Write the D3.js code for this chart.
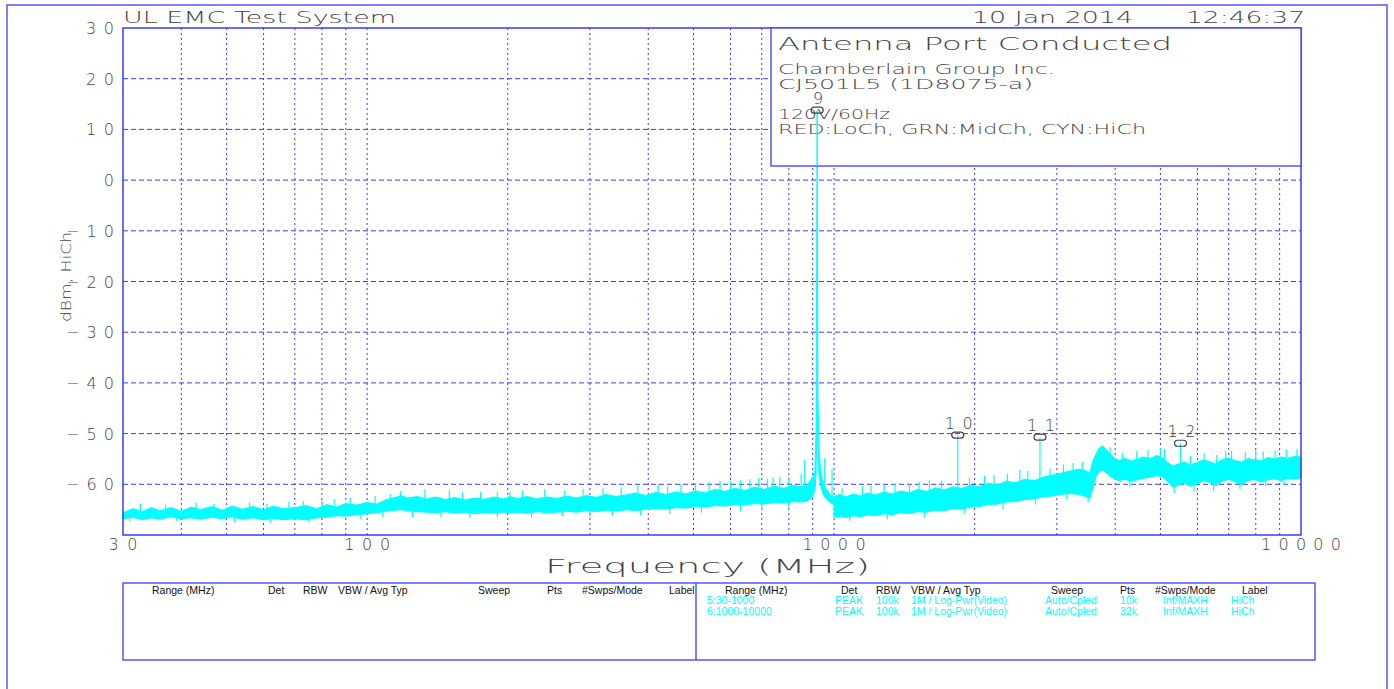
<!DOCTYPE html>
<html>
<head>
<meta charset="utf-8">
<script src="https://cdn.jsdelivr.net/npm/d3@7"></script>
<style>
  html, body { margin: 0; padding: 0; background: #fff; overflow: hidden; }
  svg { display: block; }
</style>
</head>
<body>
<div id="chart"></div>
<script>
// ---- data ----
// sweep 5: 30-1000 MHz, [MHz, band low dBm, band high dBm]
const seg1 = [
  [30, -66.8, -65.6], [31.5, -66.5, -64.8], [33, -67.0, -65.4], [34.5, -66.6, -64.6],
  [36, -66.9, -65.2], [38, -66.4, -64.6], [40, -66.8, -65.3], [42, -66.6, -64.5],
  [44, -66.9, -65.0], [46.5, -66.5, -64.4], [49, -66.8, -65.1], [51.5, -66.4, -64.3],
  [54, -66.9, -64.9], [57, -66.6, -64.4], [60, -67.0, -65.0], [63, -66.7, -64.3],
  [66, -67.0, -64.8], [70, -66.8, -64.6], [74, -67.0, -64.2], [78, -66.6, -64.8],
  [82, -66.5, -64.0], [86, -66.2, -64.5], [90, -66.3, -63.8], [95, -66.0, -64.1],
  [100, -65.8, -63.6], [105, -65.6, -63.9], [110, -65.3, -63.0], [115, -65.1, -62.6],
  [118, -65.0, -62.2], [122, -65.2, -62.7], [128, -65.4, -62.4], [134, -65.5, -62.9],
  [140, -65.6, -62.5], [147, -65.4, -63.0], [154, -65.7, -62.6], [162, -65.5, -63.1],
  [170, -65.8, -62.7], [178, -65.6, -63.0], [187, -65.7, -62.5], [196, -65.5, -62.9],
  [202, -65.6, -62.4], [210, -65.5, -62.8], [220, -65.7, -62.4], [231, -65.4, -62.9],
  [243, -65.6, -62.5], [255, -65.5, -62.8], [268, -65.3, -62.3], [281, -65.5, -62.7],
  [295, -65.2, -62.2], [310, -65.4, -62.6], [325, -65.1, -62.0], [341, -65.3, -62.4],
  [358, -65.0, -62.1], [376, -65.2, -61.7], [395, -64.9, -62.2], [415, -64.8, -61.6],
  [436, -64.9, -62.0], [458, -64.6, -61.5], [481, -64.7, -61.9], [505, -64.4, -61.3],
  [530, -64.5, -61.7], [556, -64.2, -61.0], [584, -64.3, -61.4], [613, -64.0, -60.8],
  [643, -64.1, -61.2], [675, -63.8, -60.6], [709, -63.9, -61.0], [744, -63.6, -60.4],
  [780, -63.7, -60.8], [815, -63.4, -60.2], [845, -63.5, -60.5], [870, -63.4, -60.3],
  [885, -63.0, -59.6], [900, -62.5, -58.5], [910, -61.0, -57.2], [915, -58.0, -50.0],
  [920, -45.0, 13.8], [923, -50.0, -41.5], [928, -58.0, -53.0], [935, -60.0, -57.0],
  [945, -61.8, -59.5], [955, -62.5, -60.6], [965, -63.0, -61.0], [980, -63.6, -62.0],
  [990, -63.8, -62.4], [1000, -64.0, -62.6]
];

// sweep 6: 1000-10000 MHz
const seg2 = [
  [1000, -66.5, -62.4], [1030, -66.3, -62.0], [1060, -66.6, -62.5], [1100, -66.2, -61.9],
  [1140, -66.4, -62.3], [1180, -66.0, -61.7], [1230, -66.2, -62.1], [1280, -65.8, -61.5],
  [1330, -66.0, -61.9], [1390, -65.6, -61.3], [1450, -65.8, -61.7], [1510, -65.4, -61.0],
  [1580, -65.5, -61.4], [1650, -65.1, -60.7], [1720, -65.2, -61.1], [1800, -64.8, -60.5],
  [1880, -64.9, -60.8], [1960, -64.5, -60.2], [2050, -64.4, -60.5], [2140, -64.0, -59.8],
  [2240, -63.9, -60.1], [2340, -63.5, -59.4], [2450, -63.4, -59.7], [2560, -63.0, -59.0],
  [2680, -62.9, -59.3], [2800, -62.5, -58.6], [2930, -62.3, -58.2], [3060, -62.0, -57.8],
  [3200, -61.8, -57.4], [3350, -62.0, -57.0], [3450, -62.4, -57.3], [3530, -62.8, -57.8],
  [3580, -61.0, -55.5], [3640, -58.5, -54.0], [3700, -57.5, -52.8], [3760, -57.2, -52.4],
  [3830, -57.8, -53.2], [3900, -58.4, -53.9], [3980, -58.9, -54.8], [4080, -59.3, -55.3],
  [4200, -59.0, -54.9], [4330, -59.4, -55.4], [4470, -59.1, -55.0], [4610, -58.8, -54.6],
  [4760, -58.6, -54.9], [4910, -58.3, -54.3], [5060, -58.6, -54.8], [5200, -59.6, -55.8],
  [5330, -60.6, -56.4], [5460, -60.2, -56.0], [5620, -59.8, -55.6], [5800, -60.4, -56.2],
  [5980, -60.0, -55.7], [6170, -59.3, -55.2], [6360, -59.6, -55.5], [6560, -60.3, -56.0],
  [6770, -59.4, -55.1], [6990, -59.0, -54.8], [7220, -59.5, -55.3], [7450, -60.1, -55.6],
  [7700, -59.3, -54.9], [7960, -59.0, -55.2], [8220, -59.6, -55.4], [8490, -59.1, -54.7],
  [8770, -58.9, -55.0], [9060, -59.3, -54.6], [9360, -58.8, -54.9], [9670, -59.0, -54.5],
  [10000, -58.7, -54.6]
];

// narrow spikes sticking out of the noise band [MHz, from dBm, to dBm]
const spurs = [
  [32.7, -65.5, -63.8], [37, -65.0, -64.0], [43, -64.8, -63.6], [47, -65.0, -63.9],
  [56, -65.0, -63.6], [61, -64.9, -63.9], [68, -64.8, -63.5], [73, -64.4, -63.3],
  [80, -64.6, -63.2], [85, -64.3, -62.9], [92, -64.0, -62.6], [104, -63.8, -62.3],
  [112, -63.0, -61.9], [118, -62.8, -61.3], [133, -62.8, -61.0], [150, -62.8, -61.2],
  [160, -63.0, -61.6], [175, -62.9, -61.4], [190, -62.7, -61.6], [202, -62.8, -61.5],
  [215, -62.7, -61.2], [240, -62.6, -61.0], [265, -62.5, -61.2], [290, -62.4, -60.9],
  [320, -62.2, -60.8], [350, -62.2, -60.6], [380, -61.8, -60.3], [420, -61.8, -60.0],
  [440, -62.0, -60.4], [470, -61.7, -59.9], [505, -61.4, -59.8], [540, -61.5, -59.6],
  [570, -61.2, -59.4], [600, -61.1, -59.3], [630, -61.0, -59.2], [660, -60.9, -59.0],
  [690, -60.7, -58.7], [720, -60.7, -58.8], [740, -60.5, -58.6], [765, -60.5, -58.5],
  [800, -60.3, -58.9], [850, -60.5, -57.9], [865, -60.3, -55.2], [955, -60.6, -54.8],
  [990, -62.4, -57.0],
  [31, -66.5, -67.4], [39, -66.4, -67.3], [52, -66.5, -67.5], [62, -66.7, -67.6],
  [75, -66.8, -67.5], [97, -66.0, -66.9], [108, -65.4, -66.4], [125, -65.3, -66.5],
  [144, -65.5, -66.5], [166, -65.6, -66.6], [190, -65.6, -66.4], [225, -65.5, -66.6],
  [262, -65.3, -66.3], [300, -65.2, -66.4], [335, -65.2, -66.2], [385, -65.0, -66.1],
  [445, -64.7, -65.8], [520, -64.4, -65.6], [630, -64.0, -65.3], [700, -63.8, -64.9],
  [800, -63.5, -64.6],
  [1040, -62.0, -60.7], [1150, -62.1, -60.4], [1200, -61.8, -60.3], [1280, -61.6, -60.1],
  [1350, -61.8, -60.0], [1450, -61.5, -59.9], [1520, -61.1, -59.5], [1600, -61.2, -59.4],
  [1700, -61.0, -59.3], [1840, -60.6, -50.3], [1950, -60.3, -58.7], [2100, -60.2, -58.3],
  [2200, -60.0, -58.2], [2350, -59.5, -57.9], [2500, -59.6, -57.2], [2600, -59.1, -57.4],
  [2760, -59.0, -50.7], [2900, -58.3, -56.9], [3100, -57.8, -56.1], [3250, -57.4, -55.8],
  [3400, -57.1, -55.6], [3900, -54.0, -52.7], [4150, -55.0, -53.8], [4450, -55.0, -53.4],
  [4700, -54.8, -53.2], [5000, -54.5, -52.9], [5100, -55.0, -53.0], [5520, -56.0, -51.9],
  [5800, -56.0, -54.4], [6200, -55.3, -53.9], [6600, -55.8, -54.2], [6900, -55.0, -53.5],
  [7100, -55.0, -53.4], [7600, -55.3, -53.7], [8000, -55.1, -53.3], [8300, -55.4, -53.6],
  [8800, -55.0, -53.4], [9300, -54.8, -53.1], [9800, -54.6, -53.0],
  [1080, -66.4, -67.2], [1300, -65.9, -66.9], [1560, -65.5, -66.5], [1900, -64.8, -65.8],
  [2300, -63.8, -64.9], [2700, -62.9, -64.0], [3150, -61.9, -63.0], [3500, -62.6, -63.6],
  [4300, -59.3, -60.5], [5350, -60.5, -61.7], [5900, -60.2, -61.4], [6500, -60.1, -61.3],
  [7400, -60.0, -61.0], [8400, -59.4, -60.4], [9200, -59.2, -60.2]
];

// peak markers [label, MHz, dBm]
const markers = [
  ["9", 920, 13.8], ["10", 1840, -50.3], ["11", 2760, -50.7], ["12", 5520, -51.9]
];

const yTickLabels = [30, 20, 10, 0, -10, -20, -30, -40, -50, -60];
const xTickLabels = [30, 100, 1000, 10000];

const titleLines = [
  "Antenna Port Conducted",
  "Chamberlain Group Inc.",
  "CJ501L5 (1D8075-a)",
  "120V/60Hz",
  "RED:LoCh, GRN:MidCh, CYN:HiCh"
];

const tableHeaders = ["Range (MHz)", "Det", "RBW", "VBW / Avg Typ", "Sweep", "Pts", "#Swps/Mode", "Label"];
const sweepRows = [
  ["5:30-1000", "PEAK", "100k", "1M / Log-Pwr(Video)", "Auto/Cpled", "10k", "Inf/MAXH", "HiCh"],
  ["6:1000-10000", "PEAK", "100k", "1M / Log-Pwr(Video)", "Auto/Cpled", "32k", "Inf/MAXH", "HiCh"]
];

// ---- layout ----
const W = 1394, H = 689;
const plot = { left: 123, right: 1301, top: 28, bottom: 535 };
const BLUE = "#3a3aff";
const INK = "#444";
const TRACE = "#00ffff";
const FONT = "'DejaVu Sans ExtraLight', 'DejaVu Sans', sans-serif";

const svg = d3.select("#chart").append("svg")
  .attr("width", W)
  .attr("height", H)
  .style("background", "white");

const x = d3.scaleLog().domain([30, 10000]).range([plot.left, plot.right]);
const y = d3.scaleLinear().domain([-70, 30]).range([plot.bottom, plot.top]);

// outer page frame
svg.append("rect")
  .attr("x", 7).attr("y", 5)
  .attr("width", 1380).attr("height", 720)
  .attr("fill", "none").attr("stroke", BLUE).attr("stroke-width", 1.3);

function label(g, str, px, py, size, len, anchor) {
  const t = g.append("text")
    .attr("x", px).attr("y", py)
    .attr("font-family", FONT)
    .attr("font-weight", 200)
    .attr("font-size", size)
    .attr("fill", INK)
    .attr("text-anchor", anchor || "start")
    .text(str);
  if (len) t.attr("textLength", len).attr("lengthAdjust", "spacingAndGlyphs");
  return t;
}

// header line
label(svg, "UL EMC Test System", 123, 23, 15, 273);
label(svg, "10 Jan 2014", 972, 23, 15, 161);
label(svg, "12:46:37", 1186, 23, 15, 119);

// grid
const grid = svg.append("g");
grid.selectAll("line.v")
  .data(x.ticks().filter(d => d > 30 && d < 10000))
  .join("line")
    .attr("x1", d => x(d)).attr("x2", d => x(d))
    .attr("y1", plot.top).attr("y2", plot.bottom)
    .attr("stroke", BLUE).attr("stroke-width", 1)
    .attr("stroke-dasharray", "2,3");

grid.selectAll("line.h")
  .data(y.ticks(10).filter(d => d > -70 && d < 30))
  .join("line")
    .attr("x1", plot.left).attr("x2", plot.right)
    .attr("y1", d => y(d)).attr("y2", d => y(d))
    .attr("stroke", BLUE).attr("stroke-width", 1)
    .attr("stroke-dasharray", "5,3");

// y tick labels
svg.append("g").selectAll("text")
  .data(yTickLabels)
  .join("text")
    .attr("x", 114)
    .attr("y", d => y(d) + 6)
    .attr("text-anchor", "end")
    .attr("font-family", FONT)
    .attr("font-weight", 200)
    .attr("font-size", 16)
    .attr("fill", INK)
    .attr("textLength", d => d < 0 ? 48 : (d === 0 ? 12 : 28))
    .attr("lengthAdjust", "spacing")
    .text(d => d < 0 ? "\u2212" + Math.abs(d) : d);

// x tick labels
svg.append("g").selectAll("text")
  .data(xTickLabels)
  .join("text")
    .attr("x", d => x(d))
    .attr("y", 550)
    .attr("text-anchor", "middle")
    .attr("font-family", FONT)
    .attr("font-weight", 200)
    .attr("font-size", 16)
    .attr("fill", INK)
    .attr("textLength", d => String(d).length * 17 - 5)
    .attr("lengthAdjust", "spacing")
    .text(d => d);

label(svg, "Frequency (MHz)", 545, 573, 19, 325);

svg.append("text")
  .attr("transform", "translate(71,277) rotate(-90)")
  .attr("text-anchor", "middle")
  .attr("font-family", FONT)
  .attr("font-weight", 200)
  .attr("font-size", 14)
  .attr("fill", INK)
  .attr("textLength", 90)
  .attr("lengthAdjust", "spacingAndGlyphs")
  .text("dBm, HiCh");

// trace
const area = d3.area()
  .x(d => x(d[0]))
  .y0(d => y(d[1]))
  .y1(d => y(d[2]));

const trace = svg.append("g");
[seg1, seg2].forEach(seg => {
  trace.append("path")
    .datum(seg)
    .attr("d", area)
    .attr("fill", TRACE)
    .attr("stroke", TRACE)
    .attr("stroke-width", 1)
    .attr("stroke-linejoin", "bevel");
});

trace.selectAll("line")
  .data(spurs)
  .join("line")
    .attr("x1", d => x(d[0])).attr("x2", d => x(d[0]))
    .attr("y1", d => y(d[1])).attr("y2", d => y(d[2]))
    .attr("stroke", TRACE).attr("stroke-width", 1.2);

// plot frame (drawn over the trace edges)
svg.append("rect")
  .attr("x", plot.left).attr("y", plot.top)
  .attr("width", plot.right - plot.left).attr("height", plot.bottom - plot.top)
  .attr("fill", "none").attr("stroke", BLUE).attr("stroke-width", 1.5);

// title box
const box = svg.append("g");
box.append("rect")
  .attr("x", 771).attr("y", plot.top)
  .attr("width", plot.right - 771).attr("height", 138)
  .attr("fill", "white").attr("stroke", BLUE).attr("stroke-width", 1.3);

const titleSpec = [[50, 18, 394], [74, 14, 277], [89, 14, 255], [119, 14, 112], [134, 14, 368]];
titleLines.forEach((s, i) => label(box, s, 778, titleSpec[i][0], titleSpec[i][1], titleSpec[i][2]));

// carrier line runs through the title box
svg.append("line")
  .attr("x1", x(920)).attr("x2", x(920))
  .attr("y1", y(13.8)).attr("y2", plot.top + 138)
  .attr("stroke", TRACE).attr("stroke-width", 1.5);

// markers
const mk = svg.append("g");
markers.forEach(([id, f, v]) => {
  const cx = x(f), cy = y(v);
  mk.append("rect")
    .attr("x", cx - 6).attr("y", cy - 3)
    .attr("width", 12).attr("height", 6)
    .attr("rx", 3)
    .attr("fill", "none").attr("stroke", INK).attr("stroke-width", 1.2);
  mk.append("text")
    .attr("x", cx + 1).attr("y", cy - 6)
    .attr("text-anchor", "middle")
    .attr("font-family", FONT)
    .attr("font-weight", 200)
    .attr("font-size", 16)
    .attr("fill", INK)
    .attr("textLength", id.length * 16 - 4)
    .attr("lengthAdjust", "spacing")
    .text(id);
});

// sweep settings table
const tbl = svg.append("g");
tbl.append("rect")
  .attr("x", plot.left).attr("y", 583)
  .attr("width", 1315 - plot.left).attr("height", 77)
  .attr("fill", "none").attr("stroke", BLUE).attr("stroke-width", 1.3);
tbl.append("line")
  .attr("x1", 696).attr("x2", 696).attr("y1", 583).attr("y2", 660)
  .attr("stroke", BLUE).attr("stroke-width", 1.3);

svg.append("clipPath").attr("id", "leftHalf")
  .append("rect").attr("x", plot.left).attr("y", 583).attr("width", 696 - plot.left).attr("height", 77);

const headX = [29, 145, 180, 215, 355, 424, 459, 546];
const cellX = [11, 139, 180, 215, 349, 424, 467, 535];
const TFONT = "'Liberation Sans Narrow', 'Liberation Sans', sans-serif";

[[plot.left, "url(#leftHalf)"], [696, null]].forEach(([x0, clip]) => {
  const g = tbl.append("g").attr("clip-path", clip);
  g.selectAll("text")
    .data(tableHeaders)
    .join("text")
      .attr("x", (d, i) => x0 + headX[i])
      .attr("y", 594)
      .attr("font-family", TFONT)
      .attr("font-size", 10.5)
      .attr("fill", "#111")
      .text(d => d);
});

sweepRows.forEach((row, r) => {
  tbl.append("g").selectAll("text")
    .data(row)
    .join("text")
      .attr("x", (d, i) => 696 + cellX[i])
      .attr("y", 604 + r * 11)
      .attr("font-family", TFONT)
      .attr("font-size", 10.5)
      .attr("fill", TRACE)
      .text(d => d);
});
</script>
</body>
</html>
